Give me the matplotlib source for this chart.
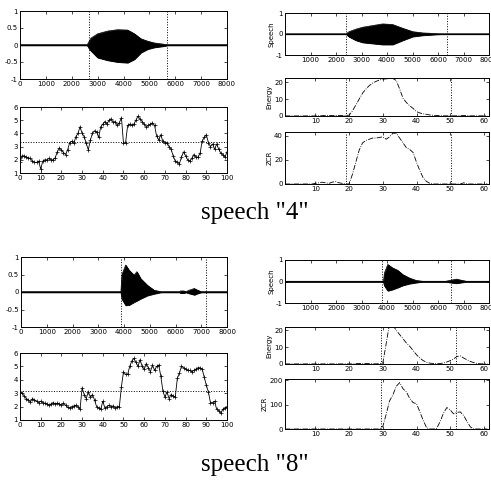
import matplotlib
matplotlib.use("Agg")
import matplotlib.pyplot as plt

# ---- datos ----
# envolvente de la senal "4" (izquierda)
t4 = [0, 2600, 2650, 2740, 3000, 3390, 3770, 4160, 4420, 4680, 4940, 5190, 5580, 5700, 8000]
up4 = [0.01, 0.01, 0.08, 0.2, 0.33, 0.41, 0.45, 0.44, 0.33, 0.18, 0.11, 0.06, 0.02, 0.01, 0.01]
lo4 = [-0.01, -0.01, -0.08, -0.17, -0.37, -0.45, -0.5, -0.52, -0.42, -0.22, -0.12, -0.07, -0.03, -0.01, -0.01]
lim4 = [2670, 5670]

# envolvente de la senal "4" (derecha)
t4r = [0, 2400, 2510, 2780, 3040, 3430, 3830, 4220, 4620, 5010, 5410, 5930, 6100, 8000]
up4r = [0.01, 0.01, 0.11, 0.23, 0.32, 0.40, 0.48, 0.45, 0.27, 0.11, 0.05, 0.02, 0.01, 0.01]
lo4r = [-0.01, -0.01, -0.13, -0.3, -0.4, -0.45, -0.5, -0.5, -0.3, -0.12, -0.06, -0.02, -0.01, -0.01]
lim4r = [2380, 6350]

# envolvente de la senal "8" (izquierda)
t8 = [0, 3880, 3920, 4065, 4200, 4390, 4500, 4650, 4910, 5170, 5430, 6150, 6200, 6330,
      6400, 6530, 6730, 6860, 7000, 8000]
up8 = [0.01, 0.01, 0.5, 0.77, 0.62, 0.48, 0.58, 0.38, 0.19, 0.05, 0.01, 0.01, 0.03, 0.03,
       0.01, 0.05, 0.1, 0.05, 0.01, 0.01]
lo8 = [-0.01, -0.01, -0.2, -0.38, -0.37, -0.29, -0.25, -0.19, -0.1, -0.05, -0.01, -0.01, -0.03, -0.03,
       -0.01, -0.04, -0.08, -0.04, -0.01, -0.01]
lim8 = [3870, 7200]

# envolvente de la senal "8" (derecha)
t8r = [0, 3860, 3900, 4030, 4220, 4420, 4620, 4880, 5140, 5400, 6300, 6500, 6720, 6950, 7120, 8000]
up8r = [0.01, 0.01, 0.4, 0.79, 0.63, 0.52, 0.32, 0.16, 0.05, 0.01, 0.01, 0.06, 0.11, 0.05, 0.01, 0.01]
lo8r = [-0.01, -0.01, -0.2, -0.43, -0.37, -0.28, -0.18, -0.1, -0.05, -0.01, -0.01, -0.05, -0.08, -0.04, -0.01, -0.01]
lim8r = [3800, 6500]

# curva por tramas (0..100)
tramas = list(range(0, 101))
p4 = [1.8, 2.3, 2.3, 2.2, 2.15, 2.1, 1.9, 1.8, 1.8, 1.9,
      1.3, 1.9, 2.0, 2.0, 2.1, 2.0, 2.0, 2.15, 2.6, 2.9,
      2.75, 2.55, 2.4, 2.75, 3.3, 3.4, 3.25, 3.75, 4.0, 4.5,
      4.0, 3.75, 3.25, 2.75, 3.5, 4.0, 4.2, 4.1, 3.7, 4.5,
      4.7, 4.9, 4.7, 5.0, 5.1, 4.85, 4.9, 4.6, 4.8, 5.2,
      3.25, 3.3, 4.6, 4.7, 4.6, 4.7, 5.0, 5.3, 5.1, 4.9,
      4.7, 4.5, 4.6, 4.7, 4.8, 4.6, 3.8, 3.5, 3.9, 3.4,
      3.3, 3.3, 3.0, 2.8, 2.3, 1.9, 1.8, 1.7, 2.2, 2.6,
      2.3, 2.0, 1.9, 2.1, 2.4, 2.2, 2.2, 2.5, 3.4, 3.7,
      3.9, 3.3, 3.0, 3.2, 2.8, 3.2, 2.8, 2.5, 2.4, 2.2, 2.6]
umbral4 = 3.33
p8 = [3.1, 3.0, 2.8, 2.6, 2.5, 2.35, 2.6, 2.5, 2.4, 2.3,
      2.4, 2.3, 2.25, 2.2, 2.1, 2.2, 2.3, 2.2, 2.25, 2.2,
      2.1, 2.25, 2.1, 1.95, 1.9, 2.0, 2.05, 2.1, 2.0, 1.8,
      3.4, 2.9, 2.6, 3.1, 2.7, 2.9, 2.5, 2.0, 1.9, 1.8,
      2.4, 1.9, 2.0, 2.1, 2.0, 2.05, 1.9, 2.0, 2.0, 3.5,
      4.6, 4.4, 4.4, 5.0, 5.4, 5.6, 5.3, 5.0, 5.5, 5.0,
      4.8, 5.2, 4.9, 4.6, 5.1, 4.7, 5.0, 5.1, 4.3, 3.2,
      2.7, 3.1, 2.6, 2.9, 2.8, 2.7, 4.1, 4.5, 5.0, 4.9,
      4.8, 4.7, 4.7, 4.6, 4.7, 4.8, 4.9, 4.9, 4.8, 4.2,
      3.6, 3.1, 2.3, 2.3, 2.4, 1.8, 1.7, 1.5, 1.8, 1.9, 2.0]
umbral8 = 3.2

# energia y ZCR por trama (1..61)
fr = list(range(1, 62))
e4 = [0.05, 0.05, 0.05, 0.05, 0.05, 0.05, 0.05, 0.05, 0.05, 0.05, 0.1,
      0.2, 0.3, 0.2, 0.3, 0.4, 0.3, 0.3, 0.3,
      0.5, 3.0, 6.5, 10.0, 13.5, 16.0, 18.0, 19.5, 20.5, 21.3,
      21.8, 22.0, 22.2, 22.2, 21.0, 16.0, 10.5, 8.0, 6.0, 4.5,
      2.6, 1.8, 1.3, 1.0, 0.6, 0.4, 0.3, 0.2, 0.1, 0.1,
      0.1, 0.1, 0.1, 0.2, 0.3, 0.2, 0.1, 0.1, 0.1, 0.1, 0.1, 0.1]
z4 = [0, 0, 0, 0, 0, 0, 0, 0, 0,
      0.5, 1, 1.5, 1, 0.5, 1.5, 2, 1, 0.5, 0,
      0, 8, 18, 28, 34, 36, 37, 38, 38, 38.5,
      39, 37, 39, 42, 42, 38, 34, 30, 28.5, 26,
      18, 11, 5, 2, 0.5, 0, 0, 0, 0, 0,
      0, 0, 0, 0, 1, 0, 0, 0, 0, 0, 0, 0]
fl4 = [19.2, 50.1]
e8 = [0.05, 0.05, 0.05, 0.05, 0.05, 0.05, 0.05, 0.05, 0.05, 0.05,
      0.05, 0.05, 0.05, 0.05, 0.05, 0.05, 0.05, 0.05, 0.05, 0.05, 0.05,
      0.2, 0.3, 0.2, 0.3, 0.2, 0.1, 0.1, 0.2, 0.5,
      12.0, 24.0, 23.0, 20.0, 17.5, 15.0, 12.5, 10.5, 8.0, 5.5,
      3.5, 2.0, 1.0, 0.5, 0.3, 0.2, 0.3, 0.6, 1.2, 2.0,
      3.0, 4.5, 4.8, 3.5, 2.5, 1.5, 0.8, 0.3, 0.1, 0.1, 0.1]
z8 = [0, 0, 0, 0, 0, 0, 0, 0, 0, 0,
      0, 0, 0, 0, 0, 0, 0, 0, 0, 0,
      0, 0, 0, 0, 0, 0, 0, 0, 0,
      10, 60, 115, 140, 175, 190, 165, 152, 125, 108,
      104, 70, 35, 5, 0, 0, 3, 30, 65, 88,
      78, 62, 68, 70, 55, 30, 8, 0, 0, 0, 0, 0]
fl8 = [29.6, 51.6]

ticks_amp = [-1, -0.5, 0, 0.5, 1]
etiq_amp = ['-1', '-0.5', '0', '0.5', '1']


def estilo(ax, fs=5):
    ax.tick_params(direction='in', length=2, width=0.5, labelsize=fs, pad=1.5,
                   top=True, right=True)
    for s in ax.spines.values():
        s.set_linewidth(0.7)


def senal(ax, t, up, lo, lim):
    ax.fill_between(t, lo, up, color='black', lw=0.6)
    ax.plot(t, up, color='black', lw=0.5)
    ax.plot(t, lo, color='black', lw=0.5)
    for x in lim:
        ax.axvline(x, color='black', ls=':', lw=0.7)
    ax.set_xlim(0, 8000)
    ax.set_ylim(-1, 1)
    estilo(ax)


def curva(ax, y, umbral):
    ax.plot(tramas, y, color='black', lw=0.6, marker='+', ms=2.5, mew=0.5)
    ax.axhline(umbral, color='black', ls=':', lw=0.7)
    ax.set_xlim(0, 100)
    ax.set_ylim(1, 6)
    ax.set_xticks(range(0, 101, 10))
    ax.set_yticks([1, 2, 3, 4, 5, 6])
    estilo(ax)


def por_trama(ax, y, lim, ymax, yt, nombre):
    ax.plot(fr, y, color='black', lw=0.6, ls='-.')
    for x in lim:
        ax.axvline(x, color='black', ls=':', lw=0.7)
    ax.set_xlim(1, 61.5)
    ax.set_ylim(0, ymax)
    ax.set_xticks([10, 20, 30, 40, 50, 60])
    ax.set_yticks(yt)
    ax.set_ylabel(nombre, fontsize=5, labelpad=1)
    estilo(ax)


W, H = 491, 480
fig = plt.figure(figsize=(W / 100, H / 100), dpi=100)


def caja(x0, y0, x1, y1):
    return fig.add_axes([x0 / W, 1 - y1 / H, (x1 - x0) / W, (y1 - y0) / H])


# ---- speech "4" ----
ax = caja(20, 11, 227, 79)
senal(ax, t4, up4, lo4, lim4)
ax.set_yticks(ticks_amp, etiq_amp)
ax.set_xticks(range(0, 8001, 1000))

ax = caja(20, 107, 227, 173)
curva(ax, p4, umbral4)

ax = caja(285, 13, 489, 55)
senal(ax, t4r, up4r, lo4r, lim4r)
ax.set_yticks([-1, 0, 1], ['-1', '0', '1'])
ax.set_xticks(range(1000, 8001, 1000))
ax.set_ylabel('Speech', fontsize=5, labelpad=1)

ax = caja(285, 78, 489, 116)
por_trama(ax, e4, fl4, 22.5, [0, 10, 20], 'Energy')

ax = caja(285, 132, 489, 184)
por_trama(ax, z4, fl4, 43, [0, 20, 40], 'ZCR')

fig.text(255 / W, 1 - 213 / H, 'speech "4"', ha='center', va='center',
         family='Liberation Serif', fontsize=18)

# ---- speech "8" ----
ax = caja(21, 257, 227, 327)
senal(ax, t8, up8, lo8, lim8)
ax.set_yticks(ticks_amp, etiq_amp)
ax.set_xticks(range(0, 8001, 1000))

ax = caja(20, 353, 227, 420)
curva(ax, p8, umbral8)

ax = caja(285, 260, 489, 303)
senal(ax, t8r, up8r, lo8r, lim8r)
ax.set_yticks([-1, 0, 1], ['-1', '0', '1'])
ax.set_xticks(range(1000, 8001, 1000))
ax.set_ylabel('Speech', fontsize=5, labelpad=1)

ax = caja(285, 327, 489, 364)
por_trama(ax, e8, fl8, 22, [0, 10, 20], 'Energy')

ax = caja(285, 379, 489, 429)
por_trama(ax, z8, fl8, 205, [0, 100, 200], 'ZCR')

fig.text(255 / W, 1 - 465 / H, 'speech "8"', ha='center', va='center',
         family='Liberation Serif', fontsize=18)

fig.savefig('out.png', dpi=100)
